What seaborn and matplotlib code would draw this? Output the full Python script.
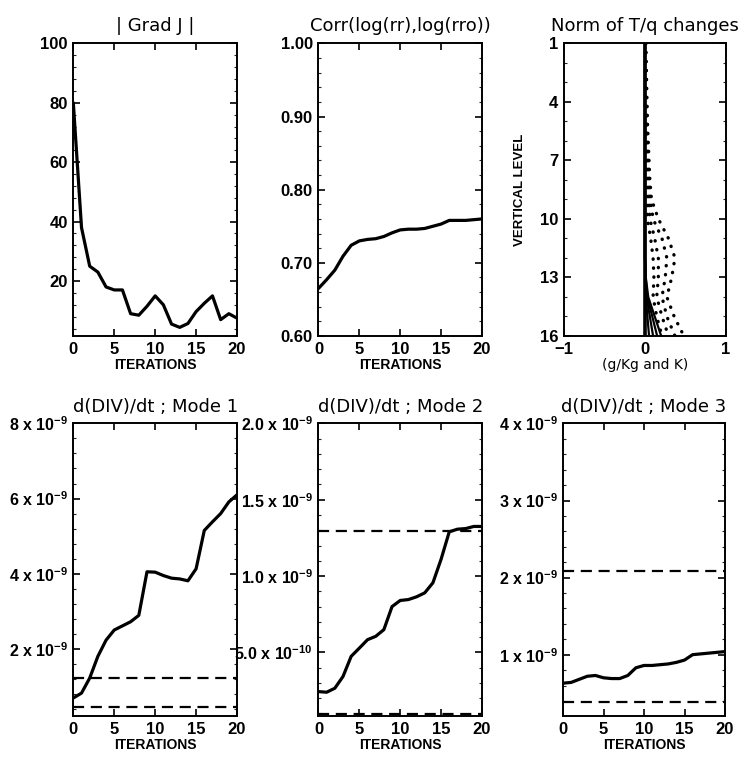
# plot.py - minimisation diagnostics, six panels
import numpy as np
import matplotlib
matplotlib.use("Agg")
import matplotlib.pyplot as plt
import seaborn as sns
from matplotlib.ticker import AutoMinorLocator, FixedLocator

iters = list(range(21))

grad_j = [80, 38, 25, 23, 18, 17, 17, 9, 8.5, 11.5, 15, 12, 5.5, 4.4, 5.7,
          9.7, 12.5, 15, 7, 9, 7.5]
corr_log = [0.665, 0.677, 0.690, 0.709, 0.724, 0.730, 0.732, 0.733, 0.736,
            0.741, 0.745, 0.746, 0.746, 0.747, 0.750, 0.753, 0.758, 0.758,
            0.758, 0.759, 0.760]

# d(DIV)/dt, in units of 1e-9
mode1_div = [0.69, 0.82, 1.22, 1.80, 2.23, 2.50, 2.61, 2.72, 2.89, 4.05, 4.04,
             3.95, 3.88, 3.86, 3.81, 4.13, 5.15, 5.38, 5.60, 5.91, 6.10]
mode2_div = [0.243, 0.239, 0.265, 0.342, 0.474, 0.528, 0.583, 0.605, 0.649,
             0.800, 0.840, 0.846, 0.864, 0.890, 0.956, 1.110, 1.290, 1.307,
             1.311, 1.325, 1.325]
mode3_div = [0.63, 0.64, 0.68, 0.72, 0.73, 0.70, 0.69, 0.69, 0.73, 0.83, 0.86,
             0.86, 0.87, 0.88, 0.90, 0.93, 1.00, 1.01, 1.02, 1.03, 1.04]
mode1_ref = [1.22, 0.46]
mode2_ref = [1.296, 0.094]
mode3_ref = [2.09, 0.383]

# T/q change profiles per vertical level
levels = list(range(1, 17))
dotted_profiles = [
    [0.010, 0.015, 0.020, 0.025, 0.030, 0.040, 0.050, 0.060, 0.080, 0.165, 0.29, 0.37, 0.33, 0.27, 0.36, 0.48],
    [0.008, 0.012, 0.016, 0.020, 0.025, 0.032, 0.040, 0.050, 0.065, 0.100, 0.21, 0.27, 0.25, 0.21, 0.27, 0.37],
    [0.006, 0.009, 0.012, 0.015, 0.020, 0.025, 0.030, 0.038, 0.050, 0.060, 0.12, 0.165, 0.165, 0.145, 0.21, 0.29],
    [0.004, 0.006, 0.008, 0.010, 0.013, 0.017, 0.020, 0.025, 0.035, 0.030, 0.07, 0.10, 0.11, 0.10, 0.145, 0.21],
]
solid_profiles = [
    [0, 0, 0, 0, 0, 0, 0, 0, 0, 0, 0, 0, 0.004, 0.010, 0.030, 0.05],
    [0, 0, 0, 0, 0, 0, 0, 0, 0, 0, 0, 0, 0.006, 0.020, 0.060, 0.10],
    [0, 0, 0, 0, 0, 0, 0, 0, 0, 0, 0, 0, 0.008, 0.030, 0.090, 0.15],
    [0, 0, 0, 0, 0, 0, 0, 0, 0, 0, 0, 0, 0.010, 0.040, 0.120, 0.20],
]
level_ticks = [1, 4, 7, 10, 13, 16]

mode1_ticks = [2, 4, 6, 8]
mode1_labels = ["2 x 10$^{-9}$", "4 x 10$^{-9}$", "6 x 10$^{-9}$", "8 x 10$^{-9}$"]
mode2_ticks = [0.5, 1.0, 1.5, 2.0]
mode2_labels = ["5.0 x 10$^{-10}$", "1.0 x 10$^{-9}$", "1.5 x 10$^{-9}$", "2.0 x 10$^{-9}$"]
mode3_ticks = [1, 2, 3, 4]
mode3_labels = ["1 x 10$^{-9}$", "2 x 10$^{-9}$", "3 x 10$^{-9}$", "4 x 10$^{-9}$"]

sns.set_style("ticks")
plt.rcParams["font.family"] = ["Liberation Sans", "DejaVu Sans"]
plt.rcParams["font.weight"] = "bold"
plt.rcParams["text.color"] = "black"
plt.rcParams["axes.labelcolor"] = "black"
plt.rcParams["mathtext.fontset"] = "custom"
plt.rcParams["mathtext.rm"] = "Liberation Sans:bold"
plt.rcParams["mathtext.it"] = "Liberation Sans:bold"
plt.rcParams["mathtext.bf"] = "Liberation Sans:bold"

fig = plt.figure(figsize=(7.52, 7.61), dpi=100)

top_y, bot_y, h = 0.5585, 0.0591, 0.3845
ax1 = fig.add_axes([0.0975, top_y, 0.2177, h])
ax2 = fig.add_axes([0.4235, top_y, 0.2174, h])
ax3 = fig.add_axes([0.7500, top_y, 0.2154, h])
ax4 = fig.add_axes([0.0975, bot_y, 0.2177, h])
ax5 = fig.add_axes([0.4235, bot_y, 0.2174, h])
ax6 = fig.add_axes([0.7487, bot_y, 0.2154, h])

title_font = dict(family="DejaVu Sans", fontweight="normal", fontsize=13,
                  color="black")
LW = 2.3


def style_axis(ax):
    for s in ax.spines.values():
        s.set_linewidth(1.4)
        s.set_color("black")
    ax.tick_params(which="major", direction="in", top=True, right=True,
                   length=5, width=1.2, labelsize=12, pad=4, colors="black")
    ax.yaxis.set_minor_locator(AutoMinorLocator(5))
    ax.tick_params(which="minor", direction="in", top=False, right=True,
                   left=True, length=2.5, width=0.8)


def iteration_axis(ax):
    ax.set_xlim(0, 20)
    ax.set_xticks([0, 5, 10, 15, 20])
    ax.set_xlabel("ITERATIONS", fontsize=10, fontweight="bold", labelpad=1)


# | Grad J |
sns.lineplot(x=iters, y=grad_j, ax=ax1, color="black", linewidth=LW)
ax1.set_ylim(1.5, 100)
ax1.set_yticks([20, 40, 60, 80, 100])
iteration_axis(ax1)
style_axis(ax1)
ax1.set_title("| Grad J |", pad=9, **title_font)

# correlation
sns.lineplot(x=iters, y=corr_log, ax=ax2, color="black", linewidth=LW)
ax2.set_ylim(0.60, 1.00)
ax2.set_yticks([0.6, 0.7, 0.8, 0.9, 1.0])
ax2.set_yticklabels(["0.60", "0.70", "0.80", "0.90", "1.00"])
iteration_axis(ax2)
style_axis(ax2)
ax2.set_title("Corr(log(rr),log(rro))", pad=9, **title_font)

# T/q changes
ax3.axvline(0, color="black", linewidth=2.6, zorder=3)
for prof in solid_profiles:
    sns.lineplot(x=prof, y=levels, ax=ax3, color="black", linewidth=1.6,
                 sort=False, estimator=None, orient="y")
for prof in dotted_profiles:
    sns.lineplot(x=prof, y=levels, ax=ax3, color="black", linewidth=2.4,
                 linestyle=(0, (0.1, 2.6)), dash_capstyle="round",
                 sort=False, estimator=None, orient="y")
ax3.set_xlim(-1, 1)
ax3.set_ylim(16, 1)
ax3.set_xticks([-1, 0, 1])
ax3.set_xticklabels(["\u22121", "0", "1"])
ax3.set_yticks(level_ticks)
style_axis(ax3)
ax3.yaxis.set_minor_locator(FixedLocator(levels))
ax3.set_xlabel("(g/Kg and K)", family="DejaVu Sans", fontweight="normal",
               fontsize=10, labelpad=1)
ax3.set_ylabel("VERTICAL LEVEL", fontsize=9.5, fontweight="bold", labelpad=10)
ax3.set_title("Norm of T/q changes", pad=9, **title_font)

# modes
dash = (0, (5, 3))
for ax, vals, refs, lo, hi, ticks, labels, name in [
    (ax4, mode1_div, mode1_ref, 0.21, 8.0, mode1_ticks, mode1_labels, "d(DIV)/dt ; Mode 1"),
    (ax5, mode2_div, mode2_ref, 0.083, 2.0, mode2_ticks, mode2_labels, "d(DIV)/dt ; Mode 2"),
    (ax6, mode3_div, mode3_ref, 0.204, 4.0, mode3_ticks, mode3_labels, "d(DIV)/dt ; Mode 3"),
]:
    sns.lineplot(x=iters, y=vals, ax=ax, color="black", linewidth=LW)
    for r in refs:
        ax.axhline(r, color="black", linewidth=1.6, linestyle=dash)
    ax.set_ylim(lo, hi)
    ax.set_yticks(ticks)
    ax.set_yticklabels(labels)
    iteration_axis(ax)
    style_axis(ax)
    ax.tick_params(axis="y", labelsize=11.5)
    ax.set_title(name, pad=8, **title_font)

fig.savefig("out.png", dpi=100)
